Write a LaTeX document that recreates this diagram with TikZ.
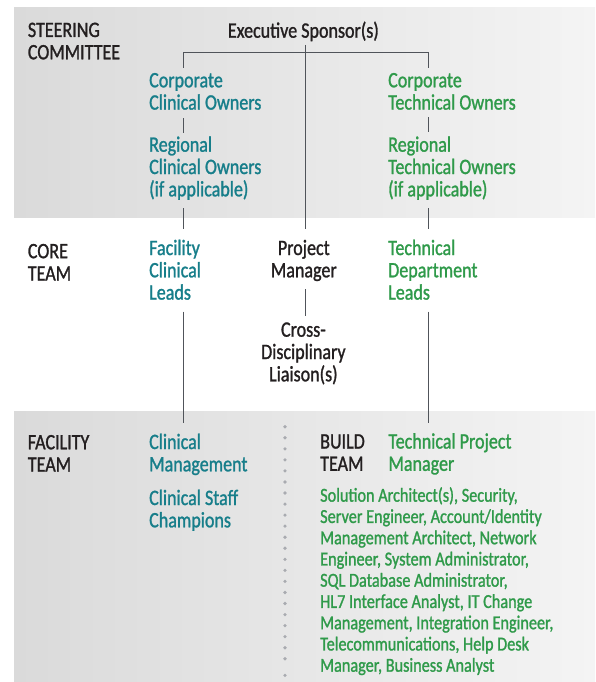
\documentclass[tikz,border=0pt]{standalone}
\usepackage{fontspec}
\setmainfont{Carlito}[FakeStretch=0.82, FakeBold=1.2]
\definecolor{teal1}{HTML}{177E8A}
\definecolor{green1}{HTML}{2F9A4A}
\definecolor{ink}{HTML}{231F20}
\definecolor{linec}{HTML}{50545A}
\definecolor{panelL}{HTML}{DADADA}
\definecolor{panelR}{HTML}{F4F4F4}
\definecolor{dotc}{HTML}{A9ABB0}
\tikzset{
  lbl/.style={anchor=base west, inner sep=0pt, align=left, text=ink, font=\fontsize{22}{22.3}\selectfont},
  ctr/.style={anchor=base, inner sep=0pt, align=center, text=ink, font=\fontsize{22}{22.3}\selectfont},
  clin/.style={lbl, text=teal1},
  tech/.style={lbl, text=green1},
  listtxt/.style={lbl, text=green1, font=\fontsize{19.8}{21.25}\selectfont},
  conn/.style={draw=linec, line width=1.2pt},
  panel/.style={left color=panelL, right color=panelR, draw=none}
}
\begin{document}
\begin{tikzpicture}[x=1pt, y=-1pt]
\useasboundingbox (0,0) rectangle (595,682);
% panels
\shade[panel] (14,7.5) rectangle (595,217.7);
\shade[panel] (14,411) rectangle (595,682);
% dotted divider
\foreach \i in {0,...,21} { \fill[dotc] (285,426.7+11.05*\i) circle (1.8); }
\fill[dotc] (285,675.3) circle (1.8);

% section labels (base anchor = last line)
\node[lbl] (steer) at (27.7,59.3) {STEERING\\COMMITTEE};
\node[lbl] (core) at (27.7,280.5) {CORE\\TEAM};
\node[lbl] (facteam) at (27.7,471.6) {FACILITY\\TEAM};
\node[lbl] (build) at (320,470.8) {BUILD\\TEAM};

% steering committee
\node[ctr] (exec) at (303.4,37.7) {Executive Sponsor(s)};
\node[clin] (corpC) at (149,109.6) {Corporate\\Clinical Owners};
\node[clin] (regC) at (149,196.3) {Regional\\Clinical Owners\\(if applicable)};
\node[tech] (corpT) at (388,109.6) {Corporate\\Technical Owners};
\node[tech] (regT) at (388,196.3) {Regional\\Technical Owners\\(if applicable)};

% core team
\node[clin] (facC) at (149,299.6) {Facility\\Clinical\\Leads};
\node[ctr] (pm) at (303.8,277.3) {Project\\Manager};
\node[ctr] (cross) at (303.4,381.3) {Cross-\\Disciplinary\\Liaison(s)};
\node[tech] (techD) at (388,299.6) {Technical\\Department\\Leads};

% facility / build team
\node[clin] (clinM) at (149,471.3) {Clinical\\Management};
\node[clin] (clinS) at (149,527.3) {Clinical Staff\\Champions};
\node[tech] (tpm) at (388.3,470.8) {Technical Project\\Manager};
\node[listtxt] (list) at (320,671.7) {Solution Architect(s), Security,\\Server Engineer, Account/Identity\\Management Architect, Network\\Engineer, System Administrator,\\SQL Database Administrator,\\HL7 Interface Analyst, IT Change\\Management, Integration Engineer,\\Telecommunications, Help Desk\\Manager, Business Analyst};

% connector coordinates
\coordinate (xl) at (183.3,0);
\coordinate (xc) at (305.7,0);
\coordinate (xr) at (428.8,0);
\coordinate (bar) at (0,52.3);

% connectors
\draw[conn] (xl |- bar) -- (xr |- bar);
\draw[conn] (xl |- bar) -- (183.3,68.3);
\draw[conn] (xr |- bar) -- (428.8,68.3);
\draw[conn] (305.7,45) -- (305.7,228.5);
\draw[conn] (183.3,118.3) -- (183.3,132.7);
\draw[conn] (428.8,117.5) -- (428.8,132);
\draw[conn] (183.3,208.3) -- (183.3,228.5);
\draw[conn] (428.8,208.3) -- (428.8,228.5);
\draw[conn] (305.7,289.3) -- (305.7,315.7);
\draw[conn] (183.3,311.7) -- (183.3,422.7);
\draw[conn] (428.8,311.7) -- (428.8,422.7);
\end{tikzpicture}
\end{document}
